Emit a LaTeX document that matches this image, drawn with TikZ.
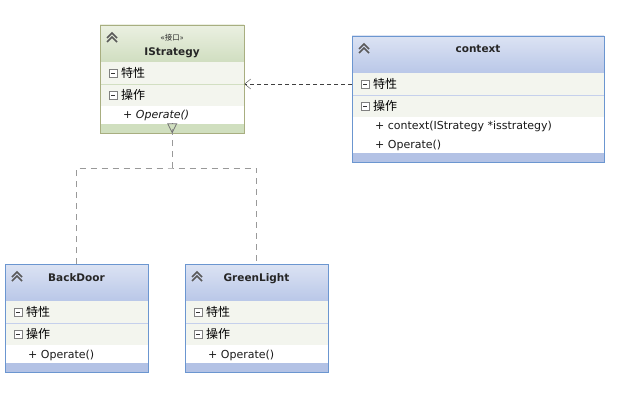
\documentclass[tikz,border=0pt]{standalone}
\usepackage{fontspec}
\setmainfont{DejaVu Sans}
\newfontfamily\cjk{Noto Sans CJK SC}
\usetikzlibrary{arrows.meta}

% colours of the two box schemes
\definecolor{bluetop}{HTML}{DCE3F3}
\definecolor{bluebot}{HTML}{B9C7E8}
\definecolor{blueline}{HTML}{6B96D0}
\definecolor{bluebar}{HTML}{B3C2E5}
\definecolor{bluesep}{HTML}{C5D0EC}
\definecolor{greentop}{HTML}{EBF0E2}
\definecolor{greenbot}{HTML}{D0DEC0}
\definecolor{greenline}{HTML}{A8AE80}
\definecolor{greenbar}{HTML}{D0DFBF}
\definecolor{greensep}{HTML}{D2DFC2}
\definecolor{rowbg}{HTML}{F3F5EE}

\tikzset{
  classtitle/.style={font=\fontsize{10.5}{12}\selectfont\bfseries, text=black!85, inner sep=1pt},
  rowtext/.style={font=\fontsize{12}{14}\selectfont\cjk, inner sep=0pt},
  optext/.style={font=\fontsize{11}{13}\selectfont, text=black!90, inner sep=0pt},
  depend/.style={draw=black!75, dash pattern=on 4pt off 3pt, -{Straight Barb[length=6pt, width=10pt]}},
  realize/.style={draw=black!40, line width=1pt, dash pattern=on 6pt off 5pt},
  collapse box/.pic={
    \draw[black!50, fill=white] (-4,-4) rectangle (4,4);
    \draw[black!80] (-2,0) -- (2,0);
  },
  chevrons/.pic={
    \draw[black!65, line width=1.6pt] (-5,3) -- (0,-2) -- (5,3);
    \draw[black!65, line width=1.6pt] (-5,7) -- (0,2) -- (5,7);
  },
}

% #1 name, #2 top left corner, #3 width, #4 number of operations,
% #5 colour scheme, #6 title, #7 operations
\newcommand{\classbox}[7]{
  \begin{scope}[shift={#2}]
    \shade[top color=#5top, bottom color=#5bot] (0,0) rectangle (#3,37);
    \fill[rowbg] (0,37) rectangle (#3,81);
    \draw[#5sep] (0,59.5) -- (#3,59.5);
    \fill[white] (0,81) rectangle (#3,{81+18*#4});
    \fill[#5bar] (0,{81+18*#4}) rectangle (#3,{90+18*#4});
    \pic at (12,10) {chevrons};
    \node[classtitle, anchor=north, align=center] at ({#3/2},8) {#6};
    \pic at (13,48) {collapse box};
    \node[rowtext, anchor=west] (#1attr) at (21,48) {特性};
    \pic at (13,70) {collapse box};
    \node[rowtext, anchor=west] (#1oper) at (21,70) {操作};
    \foreach \op [count=\i] in {#7}
      \node[optext, anchor=base west] at (23,{76+18*\i}) {\op};
    \node[draw=#5line, anchor=north west, inner sep=0pt,
          minimum width=#3pt, minimum height=90pt+18pt*#4] (#1) at (0,0) {};
  \end{scope}
}

\begin{document}
\begin{tikzpicture}[x=1pt, y=-1pt]
  \useasboundingbox (0,0) rectangle (630,396);

  % 1. the interface and the context class
  \classbox{istrategy}{(100,25)}{144}{1}{green}
    {{\mdseries\fontsize{7.5}{8}\selectfont«\cjk 接口»}\\[3pt]IStrategy}
    {\textit{+ Operate()}}
  \classbox{context}{(352,36)}{252}{2}{blue}{context}
    {+ context(IStrategy *isstrategy), + Operate()}

  % 2. the two concrete strategies
  \classbox{backdoor}{(5,264)}{143}{1}{blue}{BackDoor}{+ Operate()}
  \classbox{greenlight}{(185,264)}{143}{1}{blue}{GreenLight}{+ Operate()}

  % 3. context uses IStrategy
  \draw[depend] (context.west |- contextattr) -- (istrategy.east |- contextattr);

  % 4. both strategies realize the interface
  \coordinate (join) at (istrategy.south |- 0,168);
  \draw[realize] (backdoor.north) |- (join) -| (greenlight.north);
  \draw[realize] (join) -- ([yshift=10pt]istrategy.south);
  \draw[black!55, line width=0.8pt, -{Triangle[open, length=10pt, width=10pt]}]
    ([yshift=10pt]istrategy.south) -- (istrategy.south);
\end{tikzpicture}
\end{document}
